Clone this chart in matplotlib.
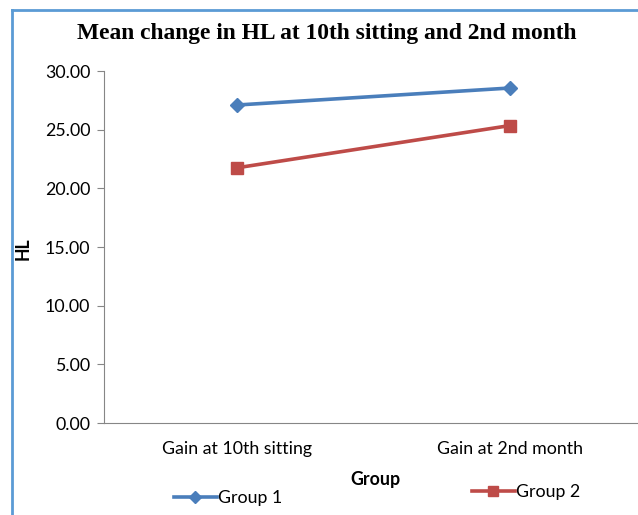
import matplotlib
matplotlib.use("Agg")
from matplotlib import pyplot as plt
from matplotlib.lines import Line2D

categories = ["Gain at 10th sitting", "Gain at 2nd month"]
group1 = [27.1, 28.55]
group2 = [21.75, 25.35]
yticks = [0, 5, 10, 15, 20, 25, 30]

W, H = 638, 515
fig = plt.figure(figsize=(W / 100, H / 100), dpi=100)
ax = fig.add_axes([104 / W, 1 - 423 / H, 1 - 104 / W, (423 - 71) / H])

blue = "#4A7EBB"
red = "#BE4B48"
fs = 12.8
x = range(len(categories))
ax.plot(x, group1, color=blue, lw=2.6, marker="D", ms=7.5, label="Group 1")
ax.plot(x, group2, color=red, lw=2.6, marker="s", ms=8.5, label="Group 2")

ax.set_xlim(-0.487, 1.469)
ax.set_ylim(0, 30)
ax.set_yticks(yticks)
ax.set_yticklabels([f"{v:.2f}" for v in yticks], fontsize=fs, family="Lato")
ax.set_xticks(list(x))
ax.set_xticklabels(categories, fontsize=fs, family="Lato")
ax.tick_params(axis="x", length=0, pad=13)
ax.tick_params(axis="y", length=5, color="#868686", pad=5)
for s in ["top", "right"]:
    ax.spines[s].set_visible(False)
for s in ["left", "bottom"]:
    ax.spines[s].set_color("#868686")
ax.patch.set_alpha(0)

fig.text(23 / W, 1 - 249 / H, "HL", rotation=90, fontsize=fs, weight="bold",
         family="Lato", ha="center", va="center")
fig.text(375 / W, 1 - 480 / H, "Group", fontsize=fs, weight="bold",
         family="Lato", ha="center", va="center")
fig.text(327 / W, 1 - 33 / H, "Mean change in HL at 10th sitting and 2nd month",
         fontsize=16.9, weight="bold", family="Liberation Serif",
         ha="center", va="center")

# frame of the chart area
fig.add_artist(Line2D([12 / W, 12 / W], [0, 1 - 10 / H], color="#5B9BD5", lw=2,
                      transform=fig.transFigure))
fig.add_artist(Line2D([12 / W, 1], [1 - 10 / H, 1 - 10 / H], color="#5B9BD5", lw=2,
                      transform=fig.transFigure))

h1, h2 = ax.get_legend_handles_labels()[0]
fig.legend([h1], ["Group 1"], loc="center left", bbox_to_anchor=(174 / W, 1 - 498 / H),
           frameon=False, prop={"family": "Lato", "size": fs}, handlelength=2.4,
           handletextpad=0.05, borderaxespad=0, borderpad=0, markerscale=0.8)
fig.legend([h2], ["Group 2"], loc="center left", bbox_to_anchor=(472 / W, 1 - 492 / H),
           frameon=False, prop={"family": "Lato", "size": fs}, handlelength=2.4,
           handletextpad=0.05, borderaxespad=0, borderpad=0, markerscale=0.8)

fig.savefig("out.png", dpi=100)
